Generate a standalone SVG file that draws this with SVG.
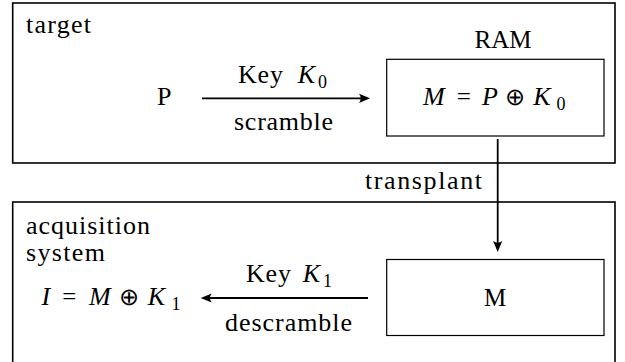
<svg xmlns="http://www.w3.org/2000/svg" width="625" height="362" viewBox="0 0 625 362">
  <defs>
    <marker id="head" markerUnits="userSpaceOnUse" viewBox="-12 -6 13 12" markerWidth="13" markerHeight="12" refX="-4" refY="0" orient="auto">
      <path d="M0,0 L-11,-4.6 Q-7.5,0 -11,4.6 Z" fill="#000"/>
    </marker>
  </defs>

  <rect width="625" height="362" fill="#fff"/>

  <!-- target machine -->
  <g id="target">
    <rect x="12.7" y="3" width="602.3" height="160" fill="none" stroke="#000" stroke-width="1.6"/>
    <text style="font-family:'Liberation Serif',serif;font-size:26px" x="26" y="33" textLength="65" lengthAdjust="spacing">target</text>
  </g>

  <!-- acquisition machine (frame runs off the bottom edge) -->
  <g id="acquisition">
    <rect x="12.7" y="202" width="602.3" height="170" fill="none" stroke="#000" stroke-width="1.6"/>
    <text style="font-family:'Liberation Serif',serif;font-size:26px" x="26" y="234" textLength="124" lengthAdjust="spacing">acquisition</text>
    <text style="font-family:'Liberation Serif',serif;font-size:26px" x="26" y="261" textLength="79" lengthAdjust="spacing">system</text>
  </g>

  <g id="plain">
    <text style="font-family:'Liberation Serif',serif;font-size:26px" x="157" y="105">P</text>
  </g>

  <g id="ram">
    <text style="font-family:'Liberation Serif',serif;font-size:25px" text-anchor="middle" x="503" y="48">RAM</text>
    <rect x="386.7" y="59.3" width="217.3" height="76.7" fill="#fff" stroke="#000" stroke-width="1.2"/>
    <text style="font-family:'Liberation Serif',serif;font-size:25px" text-anchor="middle">
      <tspan font-style="italic" font-size="26" x="437" y="105">M</tspan>
      <tspan x="467" y="105">=</tspan>
      <tspan font-style="italic" font-size="26" x="493" y="105">P</tspan>
      <tspan font-size="24" x="518" y="105">⊕</tspan>
      <tspan font-style="italic" font-size="26" x="545" y="105">K</tspan>
      <tspan font-size="18" x="561" y="110">0</tspan>
    </text>
  </g>

  <g id="dump">
    <rect x="386.7" y="259.5" width="217.3" height="76" fill="#fff" stroke="#000" stroke-width="1.2"/>
    <text style="font-family:'Liberation Serif',serif;font-size:25px" text-anchor="middle" x="495" y="306">M</text>
  </g>

  <g id="image">
    <text style="font-family:'Liberation Serif',serif;font-size:25px" text-anchor="middle">
      <tspan font-style="italic" font-size="26" x="49" y="305">I</tspan>
      <tspan x="72.5" y="305">=</tspan>
      <tspan font-style="italic" font-size="26" x="103" y="305">M</tspan>
      <tspan font-size="24" x="132" y="305">⊕</tspan>
      <tspan font-style="italic" font-size="26" x="159.5" y="305">K</tspan>
      <tspan font-size="18" x="176" y="310">1</tspan>
    </text>
  </g>

  <!-- connectors -->
  <g id="connectors">
    <line x1="202" y1="98.3" x2="366" y2="98.3" stroke="#000" stroke-width="1.8" marker-end="url(#head)"/>
    <text style="font-family:'Liberation Serif',serif;font-size:26px" x="238" y="83" textLength="45" lengthAdjust="spacing">Key</text>
    <text style="font-family:'Liberation Serif',serif;font-size:25px" text-anchor="middle"><tspan font-style="italic" font-size="26" x="306.5" y="83">K</tspan><tspan font-size="18" x="322.5" y="88">0</tspan></text>
    <text style="font-family:'Liberation Serif',serif;font-size:26px" x="234" y="130" textLength="99" lengthAdjust="spacing">scramble</text>

    <line x1="497.7" y1="139" x2="497.7" y2="248" stroke="#000" stroke-width="1.8" marker-end="url(#head)"/>
    <text style="font-family:'Liberation Serif',serif;font-size:26px" x="365" y="189" textLength="117" lengthAdjust="spacing">transplant</text>

    <line x1="368" y1="298" x2="204.7" y2="298" stroke="#000" stroke-width="1.8" marker-end="url(#head)"/>
    <text style="font-family:'Liberation Serif',serif;font-size:26px" x="246" y="282" textLength="45" lengthAdjust="spacing">Key</text>
    <text style="font-family:'Liberation Serif',serif;font-size:25px" text-anchor="middle"><tspan font-style="italic" font-size="26" x="311.5" y="282">K</tspan><tspan font-size="18" x="327.5" y="287">1</tspan></text>
    <text style="font-family:'Liberation Serif',serif;font-size:26px" x="225" y="331" textLength="127" lengthAdjust="spacing">descramble</text>
  </g>
</svg>
